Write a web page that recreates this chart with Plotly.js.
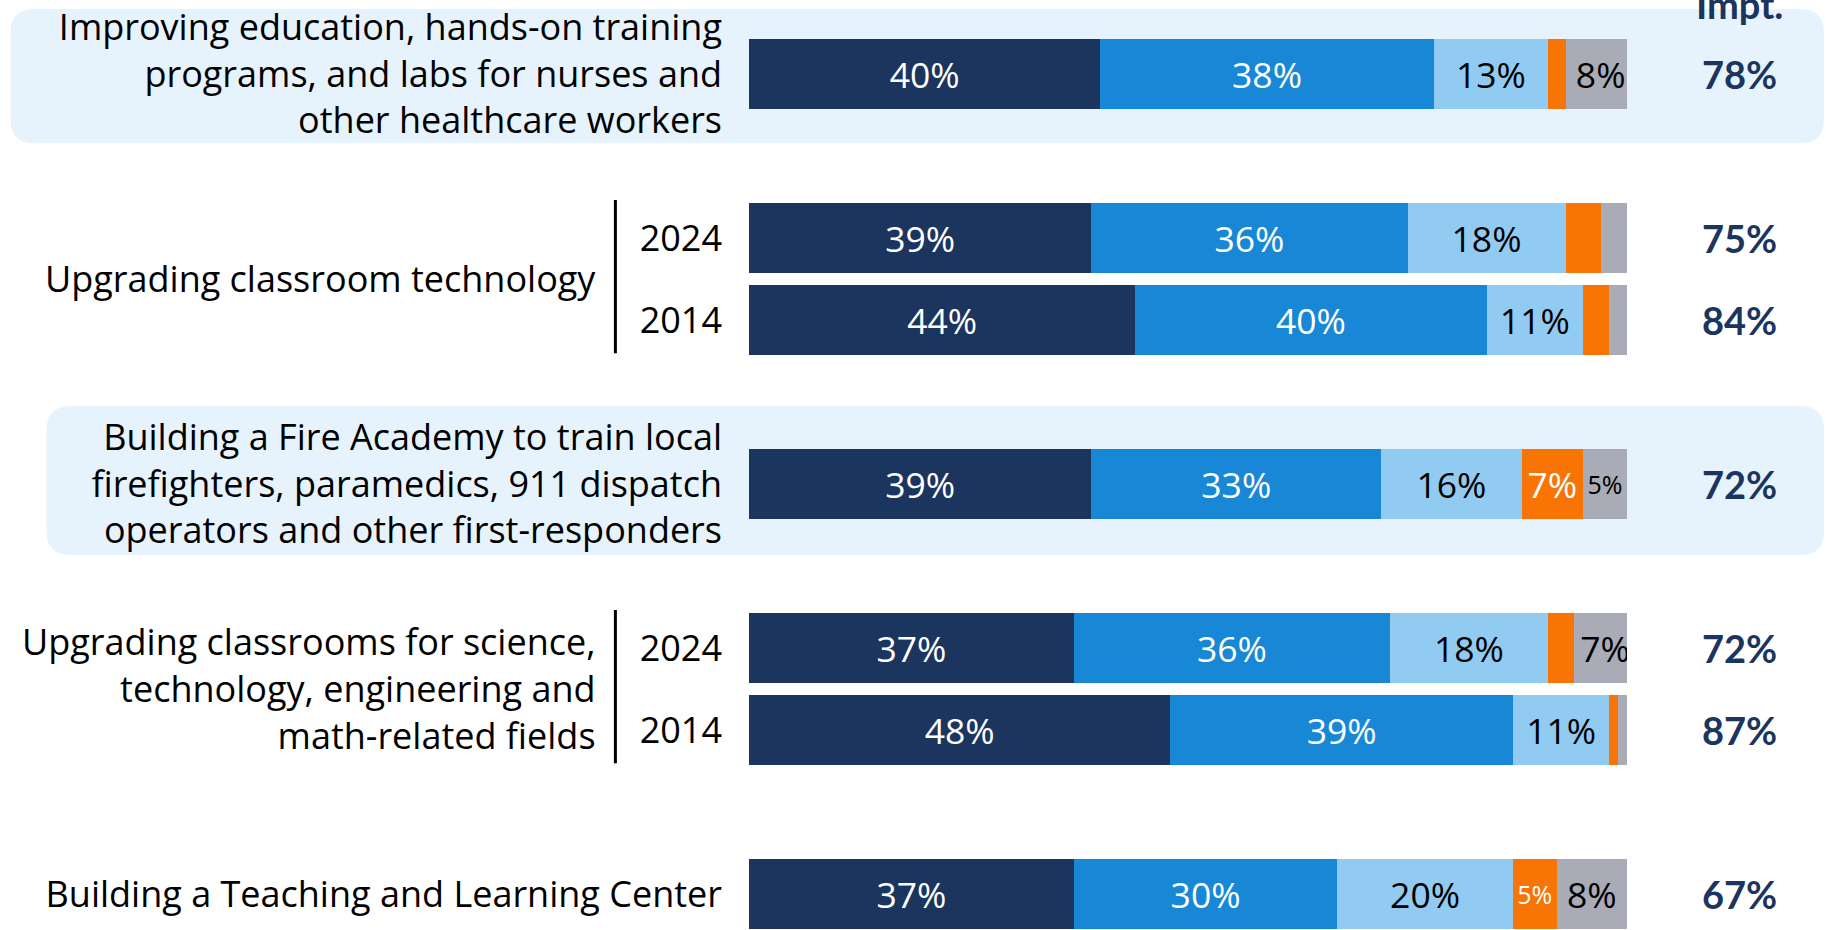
<!DOCTYPE html>
<html><head><meta charset="utf-8">
<script src="https://cdn.plot.ly/plotly-3.0.1.min.js"></script>
<style>html,body{margin:0;padding:0;background:#fff;}#chart{width:1826px;height:930px;}</style>
</head><body><div id="chart"></div>
<script>
// ---- data ----
const rowLabels = [
  "Improving education, hands-on training<br>programs, and labs for nurses and<br>other healthcare workers",
  "2024", "2014",
  "Building a Fire Academy to train local<br>firefighters, paramedics, 911 dispatch<br>operators and other first-responders",
  "2024", "2014",
  "Building a Teaching and Learning Center"
];
const rowSlots = [0, 2, 3, 5, 7, 8, 10];
const groupLabels = [
  "Upgrading classroom technology",
  "Upgrading classrooms for science,<br>technology, engineering and<br>math-related fields"
];
const groupRows = [[1, 2], [4, 5]];
const highlightRows = [0, 3];
const seriesNames = ["Extremely important", "Very important", "Somewhat important", "Not too important", "Don't know"];
const extremely = [40, 39, 44, 39, 37, 48, 37];
const very      = [38, 36, 40, 33, 36, 39, 30];
const somewhat  = [13, 18, 11, 16, 18, 11, 20];
const notImp    = [2, 4, 3, 7, 3, 1, 5];
const dontKnow  = [8, 3, 2, 5, 7, 1, 8];
const totalImpt = [78, 75, 84, 72, 72, 87, 67];
const impHeader = "Impt.";

// ---- styles ----
const FONT = "'Open Sans', Lato, sans-serif";
const BOLDFONT = "Lato, 'Open Sans', sans-serif";
const colors = ["#1C355E", "#1888D6", "#92CBF2", "#F77405", "#A9ABB7"];
const textColors = ["#FFFFFF", "#FFFFFF", "#000000", "#FFFFFF", "#000000"];
const series = [extremely, very, somewhat, notImp, dontKnow];
const y = rowSlots;

const traces = series.map((vals, i) => ({
  type: "bar",
  orientation: "h",
  name: seriesNames[i],
  x: vals,
  y: y,
  width: 0.845,
  marker: {color: colors[i], line: {width: 0}},
  text: vals.map(v => v >= 5 ? v + "%" : ""),
  textposition: "inside",
  insidetextanchor: "middle",
  textangle: 0,
  constraintext: "none",
  textfont: {family: FONT, color: textColors[i], size: vals.map(v => v <= 5 ? 25 : 35.5)},
  hoverinfo: "x+name",
  showlegend: false
}));

// layout geometry (pixels)
const W = 1826, H = 930;
const mL = 749, mR = 199;
const plotW = W - mL - mR;
const px2paper = p => (p - mL) / plotW;

const shapes = [];
function roundRect(x0, x1, y0, y1, rPx) {
  const rx = rPx / plotW, ry = rPx / 82;
  return `M ${x0 + rx},${y0} L ${x1 - rx},${y0} Q ${x1},${y0} ${x1},${y0 + ry} ` +
         `L ${x1},${y1 - ry} Q ${x1},${y1} ${x1 - rx},${y1} L ${x0 + rx},${y1} ` +
         `Q ${x0},${y1} ${x0},${y1 - ry} L ${x0},${y0 + ry} Q ${x0},${y0} ${x0 + rx},${y0} Z`;
}
const boxLeft = [10.5, 46.5];
const boxTopOff = [0.793, 0.951];
const boxBotOff = [0.845, 0.866];
highlightRows.forEach((r, k) => {
  const s = rowSlots[r];
  shapes.push({
    type: "path", xref: "paper", yref: "y", layer: "below",
    path: roundRect(px2paper(boxLeft[k]), px2paper(1824), s - boxTopOff[k], s + boxBotOff[k], 24),
    fillcolor: "#E6F3FC", line: {width: 0}
  });
});
groupRows.forEach(g => {
  shapes.push({
    type: "line", xref: "paper", yref: "y",
    x0: px2paper(615.4), x1: px2paper(615.4),
    y0: rowSlots[g[0]] - 0.463, y1: rowSlots[g[g.length - 1]] + 0.406,
    line: {color: "#000000", width: 3}
  });
});

const annotations = [];
groupRows.forEach((g, k) => {
  annotations.push({
    xref: "paper", yref: "y", x: px2paper(598), y: (rowSlots[g[0]] + rowSlots[g[g.length - 1]]) / 2,
    xanchor: "right", yanchor: "middle", align: "right", showarrow: false,
    text: groupLabels[k], font: {family: FONT, size: 36, color: "#000000"}
  });
});
totalImpt.forEach((v, i) => {
  annotations.push({
    xref: "paper", yref: "y", x: px2paper(1739), y: rowSlots[i],
    xanchor: "center", yanchor: "middle", showarrow: false,
    text: "<b>" + v + "%</b>", font: {family: BOLDFONT, size: 38, color: "#1C355E"}
  });
});
annotations.push({
  xref: "paper", yref: "paper", x: px2paper(1739), y: 1 - 4 / H,
  xanchor: "center", yanchor: "middle", showarrow: false,
  text: "<b>" + impHeader + "</b>", font: {family: BOLDFONT, size: 38, color: "#1C355E"}
});

const layout = {
  width: W, height: H,
  margin: {l: mL, r: mR, t: 0, b: 0, pad: 0},
  barmode: "stack",
  paper_bgcolor: "#FFFFFF",
  plot_bgcolor: "rgba(0,0,0,0)",
  font: {family: FONT},
  xaxis: {range: [0, 100], visible: false, fixedrange: true},
  yaxis: {
    range: [10.439, -0.902],
    tickmode: "array", tickvals: rowSlots, ticktext: rowLabels,
    ticks: "", showgrid: false, zeroline: false, showline: false,
    ticklabelstandoff: 26,
    tickfont: {family: FONT, size: 36, color: "#000000"},
    automargin: false, fixedrange: true
  },
  shapes: shapes,
  annotations: annotations,
  showlegend: false
};

Plotly.newPlot("chart", traces, layout, {staticPlot: true, displayModeBar: false});
</script>
</body></html>
